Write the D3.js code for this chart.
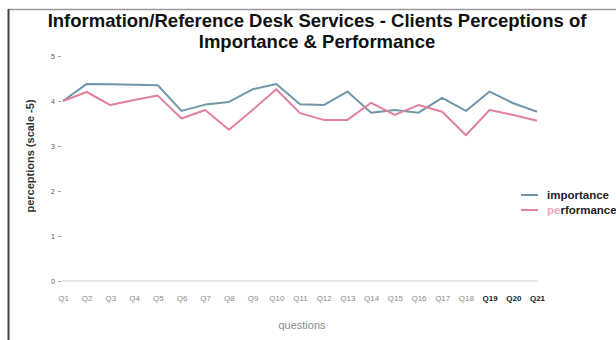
<!DOCTYPE html>
<html>
<head>
<meta charset="utf-8">
<script src="https://cdn.jsdelivr.net/npm/d3@7"></script>
<style>
  html, body { margin: 0; padding: 0; background: #fff; }
  svg { display: block; font-family: "Liberation Sans", Arial, sans-serif; }
</style>
</head>
<body>
<svg id="chart" width="616" height="340"></svg>
<script>
// Survey questions and the two perception series (scale 0-5)
const questions = ["Q1","Q2","Q3","Q4","Q5","Q6","Q7","Q8","Q9","Q10","Q11",
                   "Q12","Q13","Q14","Q15","Q16","Q17","Q18","Q19","Q20","Q21"];
const importance = [4.0, 4.38, 4.37, 4.36, 4.35, 3.78, 3.92, 3.98, 4.26, 4.38, 3.93,
                    3.91, 4.21, 3.74, 3.8, 3.74, 4.07, 3.78, 4.21, 3.95, 3.76];
const performance = [4.0, 4.2, 3.91, 4.02, 4.12, 3.61, 3.8, 3.36, 3.8, 4.26, 3.73,
                     3.58, 3.58, 3.96, 3.69, 3.91, 3.76, 3.24, 3.8, 3.69, 3.56];
const yTicks = [0, 1, 2, 3, 4, 5];
const boldTicks = ["Q19", "Q20", "Q21"];
const seriesNames = ["importance", "performance"];

const colors = { importance: "#7097aa", performance: "#e2809d" };

const svg = d3.select("#chart");

// Frame
svg.append("line").attr("x1", 8).attr("x2", 616).attr("y1", 9.5).attr("y2", 9.5)
  .attr("stroke", "#9a9a9a").attr("stroke-width", 1.5);
svg.append("line").attr("x1", 8.5).attr("x2", 8.5).attr("y1", 9).attr("y2", 340)
  .attr("stroke", "#444").attr("stroke-width", 2);

// Title
const title = svg.append("text").attr("text-anchor", "middle")
  .attr("font-weight", "bold").attr("font-size", 18.5).attr("fill", "#111");
title.append("tspan").attr("x", 317).attr("y", 27)
  .text("Information/Reference Desk Services - Clients Perceptions of");
title.append("tspan").attr("x", 317).attr("y", 48)
  .text("Importance & Performance");

const x = d3.scalePoint().domain(questions).range([63, 537]);
const y = d3.scaleLinear().domain([0, 5]).range([281, 56]);

// Baseline
svg.append("line").attr("x1", 62).attr("x2", 538)
  .attr("y1", y(0)).attr("y2", y(0))
  .attr("stroke", "#cfcfcf").attr("stroke-width", 1.2);

// Y axis: numbers with short dashes
const yAxis = d3.axisLeft(y).tickValues(yTicks).tickSize(0).tickPadding(0)
  .tickFormat(d3.format("d"));
const yg = svg.append("g").attr("transform", "translate(56,0)").call(yAxis);
yg.select(".domain").remove();
yg.selectAll("text").attr("font-size", 7).attr("fill", "#555")
  .attr("text-anchor", "end").attr("dx", -1);
yg.selectAll(".tick").append("line").attr("x1", 2).attr("x2", 5)
  .attr("stroke", "#888").attr("stroke-width", 0.8);

// X axis labels
const xAxis = d3.axisBottom(x).tickSize(0).tickPadding(0);
const xg = svg.append("g").attr("transform", "translate(0,295)").call(xAxis);
xg.select(".domain").remove();
xg.selectAll("text")
  .attr("font-size", 8)
  .attr("fill", d => boldTicks.includes(d) ? "#222" : "#8a8a8a")
  .attr("font-weight", d => boldTicks.includes(d) ? "bold" : "normal");

// Axis titles
svg.append("text").attr("x", 302).attr("y", 329).attr("text-anchor", "middle")
  .attr("font-size", 11).attr("fill", "#8a8a8a").text("questions");
svg.append("text").attr("transform", "translate(34,156) rotate(-90)")
  .attr("text-anchor", "middle").attr("font-size", 11).attr("font-weight", "bold")
  .attr("fill", "#333").text("perceptions (scale -5)");

// Lines
const line = d3.line().x((d, i) => x(questions[i])).y(d => y(d));
const series = { importance, performance };
seriesNames.forEach(name => {
  svg.append("path").datum(series[name])
    .attr("fill", "none").attr("stroke", colors[name])
    .attr("stroke-width", 2).attr("stroke-linejoin", "round")
    .attr("d", line);
});

// Legend
const legend = svg.append("g").attr("transform", "translate(521,195)");
seriesNames.forEach((name, i) => {
  const g = legend.append("g").attr("transform", `translate(0,${i * 15})`);
  g.append("line").attr("x1", 0).attr("x2", 17).attr("stroke", colors[name])
    .attr("stroke-width", 2);
  const t = g.append("text").attr("x", 26).attr("y", 4).attr("font-size", 11.5)
    .attr("font-weight", "bold").attr("fill", "#222");
  if (name === "performance") {
    t.append("tspan").attr("fill", "#f2a9bd").text(name.slice(0, 2));
    t.append("tspan").text(name.slice(2));
  } else {
    t.text(name);
  }
});
</script>
</body>
</html>
